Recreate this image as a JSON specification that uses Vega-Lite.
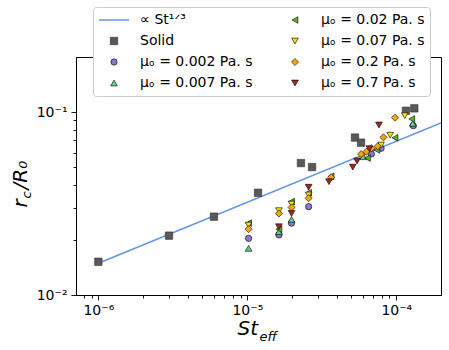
{
  "$schema": "https://vega.github.io/schema/vega-lite/v6.json",
  "width": 365,
  "height": 238,
  "autosize": {"type": "none"},
  "padding": {"left": 76, "top": 57, "right": 8, "bottom": 55},
  "background": "white",
  "config": {
    "font": "DejaVu Sans",
    "view": {"stroke": "black", "strokeWidth": 1},
    "axis": {"grid": false, "domainColor": "black", "tickColor": "black", "labelColor": "black", "titleColor": "black", "labelFont": "DejaVu Sans", "titleFont": "DejaVu Sans", "labelFontSize": 14, "titleFontWeight": "normal"}
  },
  "data": {"values": [
    {"St": 1e-6, "r": 0.0149, "series": "line"},
    {"St": 1.995e-4, "r": 0.0871, "series": "line"},
    {"St": 1e-6, "r": 0.0152, "series": "Solid"},
    {"St": 2.98e-6, "r": 0.0211, "series": "Solid"},
    {"St": 5.97e-6, "r": 0.0268, "series": "Solid"},
    {"St": 1.18e-5, "r": 0.0362, "series": "Solid"},
    {"St": 2.29e-5, "r": 0.0526, "series": "Solid"},
    {"St": 2.72e-5, "r": 0.0500, "series": "Solid"},
    {"St": 5.28e-5, "r": 0.0725, "series": "Solid"},
    {"St": 5.8e-5, "r": 0.0680, "series": "Solid"},
    {"St": 1.16e-4, "r": 0.1016, "series": "Solid"},
    {"St": 1.32e-4, "r": 0.1047, "series": "Solid"},
    {"St": 1.02e-5, "r": 0.0204, "series": "0.002"},
    {"St": 1.63e-5, "r": 0.0213, "series": "0.002"},
    {"St": 1.98e-5, "r": 0.0247, "series": "0.002"},
    {"St": 2.58e-5, "r": 0.0304, "series": "0.002"},
    {"St": 6.8e-5, "r": 0.0590, "series": "0.002"},
    {"St": 7.9e-5, "r": 0.0633, "series": "0.002"},
    {"St": 1.30e-4, "r": 0.0842, "series": "0.002"},
    {"St": 1.02e-5, "r": 0.0180, "series": "0.007"},
    {"St": 1.63e-5, "r": 0.0222, "series": "0.007"},
    {"St": 1.98e-5, "r": 0.0259, "series": "0.007"},
    {"St": 6.0e-5, "r": 0.0570, "series": "0.007"},
    {"St": 1.29e-4, "r": 0.0867, "series": "0.007"},
    {"St": 1.02e-5, "r": 0.0247, "series": "0.02"},
    {"St": 1.63e-5, "r": 0.0229, "series": "0.02"},
    {"St": 1.98e-5, "r": 0.0324, "series": "0.02"},
    {"St": 2.58e-5, "r": 0.0362, "series": "0.02"},
    {"St": 3.65e-5, "r": 0.0445, "series": "0.02"},
    {"St": 6.4e-5, "r": 0.0560, "series": "0.02"},
    {"St": 7.4e-5, "r": 0.0620, "series": "0.02"},
    {"St": 9.8e-5, "r": 0.0723, "series": "0.02"},
    {"St": 1.27e-4, "r": 0.0916, "series": "0.02"},
    {"St": 1.02e-5, "r": 0.0241, "series": "0.07"},
    {"St": 1.63e-5, "r": 0.0289, "series": "0.07"},
    {"St": 1.98e-5, "r": 0.0314, "series": "0.07"},
    {"St": 2.58e-5, "r": 0.0352, "series": "0.07"},
    {"St": 7.9e-5, "r": 0.0660, "series": "0.07"},
    {"St": 9.1e-5, "r": 0.0747, "series": "0.07"},
    {"St": 1.14e-4, "r": 0.0955, "series": "0.07"},
    {"St": 1.02e-5, "r": 0.0229, "series": "0.2"},
    {"St": 1.63e-5, "r": 0.0279, "series": "0.2"},
    {"St": 1.98e-5, "r": 0.0301, "series": "0.2"},
    {"St": 2.58e-5, "r": 0.0338, "series": "0.2"},
    {"St": 3.65e-5, "r": 0.0440, "series": "0.2"},
    {"St": 5.8e-5, "r": 0.0589, "series": "0.2"},
    {"St": 6.3e-5, "r": 0.0607, "series": "0.2"},
    {"St": 6.8e-5, "r": 0.0633, "series": "0.2"},
    {"St": 7.5e-5, "r": 0.0650, "series": "0.2"},
    {"St": 8.2e-5, "r": 0.0727, "series": "0.2"},
    {"St": 9.8e-5, "r": 0.0931, "series": "0.2"},
    {"St": 1.63e-5, "r": 0.0236, "series": "0.7"},
    {"St": 1.98e-5, "r": 0.0279, "series": "0.7"},
    {"St": 2.58e-5, "r": 0.0388, "series": "0.7"},
    {"St": 3.53e-5, "r": 0.0416, "series": "0.7"},
    {"St": 5.1e-5, "r": 0.0500, "series": "0.7"},
    {"St": 5.45e-5, "r": 0.0540, "series": "0.7"},
    {"St": 6.6e-5, "r": 0.0630, "series": "0.7"},
    {"St": 7.65e-5, "r": 0.0849, "series": "0.7"}
  ]},
  "layer": [
    {
      "transform": [{"filter": "datum.series == 'line'"}],
      "mark": {"type": "line", "strokeWidth": 1.6, "clip": true},
      "encoding": {
        "x": {"field": "St", "type": "quantitative",
          "scale": {"type": "log", "domain": [7.08e-7, 1.995e-4], "nice": false},
          "axis": {"orient": "bottom", "title": "St", "titleFontSize": 20, "titleFontStyle": "italic", "titleAlign": "left", "titleBaseline": "alphabetic", "titleX": 161, "titleY": 39,
            "values": [0.0000008, 0.0000009, 0.000001, 0.000002, 0.000003, 0.000004, 0.000005, 0.000006, 0.000007, 0.000008, 0.000009, 0.00001, 0.00002, 0.00003, 0.00004, 0.00005, 0.00006, 0.00007, 0.00008, 0.00009, 0.0001],
            "labelExpr": "datum.value == 0.000001 ? '10⁻⁶' : datum.value == 0.00001 ? '10⁻⁵' : datum.value == 0.0001 ? '10⁻⁴' : ''",
            "tickSize": {"condition": {"test": "datum.value == 0.000001 || datum.value == 0.00001 || datum.value == 0.0001", "value": 5}, "value": 3},
            "tickWidth": 0.9, "labelPadding": 3, "labelOverlap": false, "labelFlush": false}},
        "y": {"field": "r", "type": "quantitative",
          "scale": {"type": "log", "domain": [0.01, 0.1998], "nice": false},
          "axis": {"orient": "left", "title": "r", "titleFontSize": 20, "titleFontStyle": "italic", "titleAlign": "left", "titleBaseline": "alphabetic", "titleAngle": -90, "titleX": -50, "titleY": 150,
            "values": [0.01, 0.02, 0.03, 0.04, 0.05, 0.06, 0.07, 0.08, 0.09, 0.1],
            "labelExpr": "datum.value == 0.01 ? '10⁻²' : datum.value == 0.1 ? '10⁻¹' : ''",
            "tickSize": {"condition": {"test": "datum.value == 0.01 || datum.value == 0.1", "value": 5}, "value": 3},
            "tickWidth": 0.9, "labelPadding": 4, "labelOverlap": false, "labelFlush": false}},
        "stroke": {"field": "series", "type": "nominal",
          "scale": {"domain": ["line", "Solid", "0.002", "0.007", "0.02", "0.07", "0.2", "0.7"], "range": ["#6495ED", "#333333", "black", "black", "black", "black", "black", "black"]},
          "legend": {"title": null, "orient": "none", "legendX": 17, "legendY": -50, "columns": 2, "columnPadding": 26, "rowPadding": 5, "padding": 5, "clipHeight": 16, "labelOffset": 10, "labelFontSize": 14, "labelFont": "DejaVu Sans", "labelLimit": 300, "fillColor": "white", "strokeColor": "#cccccc", "cornerRadius": 3,
            "labelExpr": "datum.label == 'line' ? '∝ St¹ᐟ³' : datum.label == 'Solid' ? 'Solid' : 'μₒ = ' + datum.label + ' Pa. s'"}}
      }
    },
    {
      "transform": [{"filter": "datum.series == 'Solid'"}],
      "mark": {"type": "point", "filled": true, "opacity": 1},
      "encoding": {
        "x": {"field": "St", "type": "quantitative",
          "axis": {"orient": "bottom", "domain": false, "ticks": false, "labels": false, "grid": false, "title": "eff", "titleFontSize": 13, "titleFontStyle": "italic", "titleAlign": "left", "titleBaseline": "alphabetic", "titleX": 183, "titleY": 45}},
        "y": {"field": "r", "type": "quantitative",
          "axis": {"orient": "left", "domain": false, "ticks": false, "labels": false, "grid": false, "title": "c", "titleFontSize": 13, "titleFontStyle": "italic", "titleAlign": "left", "titleBaseline": "alphabetic", "titleAngle": -90, "titleX": -46, "titleY": 141}},
        "stroke": {"field": "series", "type": "nominal",
          "scale": {"domain": ["line", "Solid", "0.002", "0.007", "0.02", "0.07", "0.2", "0.7"], "range": ["#6495ED", "#333333", "black", "black", "black", "black", "black", "black"]}},
        "fill": {"field": "series", "type": "nominal",
          "scale": {"domain": ["line", "Solid", "0.002", "0.007", "0.02", "0.07", "0.2", "0.7"], "range": ["transparent", "#595959", "#8878d0", "#66cc8a", "#55b52a", "#f0e400", "#ffa500", "#a02a1a"]}},
        "shape": {"field": "series", "type": "nominal",
          "scale": {"domain": ["line", "Solid", "0.002", "0.007", "0.02", "0.07", "0.2", "0.7"], "range": ["stroke", "square", "circle", "triangle-up", "triangle-left", "triangle-down", "diamond", "triangle-down"]}},
        "size": {"field": "series", "type": "nominal",
          "scale": {"type": "ordinal", "domain": ["line", "Solid", "0.002", "0.007", "0.02", "0.07", "0.2", "0.7"], "range": [900, 55, 40, 45, 45, 45, 50, 45]}},
        "strokeWidth": {"field": "series", "type": "nominal",
          "scale": {"type": "ordinal", "domain": ["line", "Solid", "0.002", "0.007", "0.02", "0.07", "0.2", "0.7"], "range": [1.6, 0.6, 0.6, 0.6, 0.6, 0.6, 0.6, 0.6]}}
      }
    },
    {
      "transform": [{"filter": "datum.series != 'Solid' && datum.series != 'line'"}],
      "mark": {"type": "point", "filled": true, "opacity": 1},
      "encoding": {
        "x": {"field": "St", "type": "quantitative", "axis": null},
        "y": {"field": "r", "type": "quantitative",
          "axis": {"orient": "left", "domain": false, "ticks": false, "labels": false, "grid": false, "title": "/R₀", "titleFontSize": 20, "titleFontStyle": "italic", "titleAlign": "left", "titleBaseline": "alphabetic", "titleAngle": -90, "titleX": -50, "titleY": 132}},
        "stroke": {"field": "series", "type": "nominal",
          "scale": {"domain": ["line", "Solid", "0.002", "0.007", "0.02", "0.07", "0.2", "0.7"], "range": ["#6495ED", "#333333", "black", "black", "black", "black", "black", "black"]}},
        "fill": {"field": "series", "type": "nominal",
          "scale": {"domain": ["line", "Solid", "0.002", "0.007", "0.02", "0.07", "0.2", "0.7"], "range": ["transparent", "#595959", "#8878d0", "#66cc8a", "#55b52a", "#f0e400", "#ffa500", "#a02a1a"]}},
        "shape": {"field": "series", "type": "nominal",
          "scale": {"domain": ["line", "Solid", "0.002", "0.007", "0.02", "0.07", "0.2", "0.7"], "range": ["stroke", "square", "circle", "triangle-up", "triangle-left", "triangle-down", "diamond", "triangle-down"]}},
        "size": {"field": "series", "type": "nominal",
          "scale": {"type": "ordinal", "domain": ["line", "Solid", "0.002", "0.007", "0.02", "0.07", "0.2", "0.7"], "range": [900, 55, 40, 45, 45, 45, 50, 45]}},
        "strokeWidth": {"field": "series", "type": "nominal",
          "scale": {"type": "ordinal", "domain": ["line", "Solid", "0.002", "0.007", "0.02", "0.07", "0.2", "0.7"], "range": [1.6, 0.6, 0.6, 0.6, 0.6, 0.6, 0.6, 0.6]}}
      }
    }
  ],
  "resolve": {"axis": {"x": "independent", "y": "independent"}}
}
